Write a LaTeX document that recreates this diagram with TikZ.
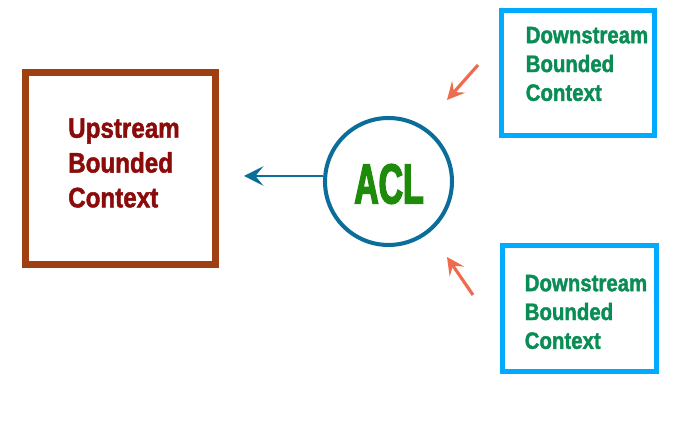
\documentclass[tikz,border=0pt]{standalone}
\usepackage{fontspec}
\usepackage{tikz}
\usetikzlibrary{arrows.meta}
\usetikzlibrary{positioning}
\newfontfamily\ctxfont[FakeStretch=0.86, FakeBold=1.6]{Liberation Sans}
\newfontfamily\aclfont[FakeStretch=0.6, FakeBold=2.5]{Liberation Sans}
\definecolor{upborder}{HTML}{9E4012}
\definecolor{uptext}{HTML}{8B0B0B}
\definecolor{aclring}{HTML}{0B6E9A}
\definecolor{acltext}{HTML}{1E8C0A}
\definecolor{downborder}{HTML}{00AAFF}
\definecolor{downtext}{HTML}{0A8C55}
\definecolor{callarrow}{HTML}{EE6B4D}
\tikzset{upbox/.style = {draw=upborder, line width=4pt, minimum width=3.8cm, minimum height=3.84cm},
         downbox/.style = {draw=downborder, line width=3pt, minimum width=3.07cm, minimum height=2.51cm},
         uplabel/.style = {text=uptext, align=left, font=\ctxfont\bfseries\fontsize{16}{19.8}\selectfont},
         downlabel/.style = {text=downtext, align=left, font=\ctxfont\bfseries\fontsize{13.5}{16.4}\selectfont},
         translate/.style = {draw=aclring, line width=1.5pt, -{Stealth[length=11pt, width=11pt, inset=4.5pt]}},
         calls/.style = {draw=callarrow, line width=1.8pt, -{Stealth[length=10pt, width=10pt, inset=4pt]}}}

\begin{document}
\begin{tikzpicture}[x=0.02cm, y=-0.02cm]
        \useasboundingbox (0,0) rectangle (698,421);
        \node[upbox] (upstream) at (120.5,168.5) {};
        \node[uplabel] (upstream-text) at (124,163) {Upstream\\Bounded\\Context};
        \node[circle, draw=aclring, line width=2.3pt, minimum size=2.54cm] (acl) at (388.5,181.5) {};
        \node[text=acltext, font=\aclfont\bfseries\fontsize{32}{34}\selectfont] (acl-text) at (389,184) {ACL};
        \node[downbox] (down-top) at (578,73) {};
        \node[downlabel] (down-top-text) at (587,64) {Downstream\\Bounded\\Context};
        \node[downbox] (down-bottom) at (579.5,308.5) {};
        \node[downlabel] (down-bottom-text) at (586,312) {Downstream\\Bounded\\Context};
        \coordinate (acl-out) at (244,176);
        \coordinate (top-from) at (478,65);
        \coordinate (top-to) at (447,100);
        \coordinate (bottom-from) at (473,295);
        \coordinate (bottom-to) at (447,257);
        \draw[translate] (acl.west |- acl-out) -- (acl-out);
        \draw[calls] (top-from) -- (top-to);
        \draw[calls] (bottom-from) -- (bottom-to);
    \end{tikzpicture}
\end{document}
